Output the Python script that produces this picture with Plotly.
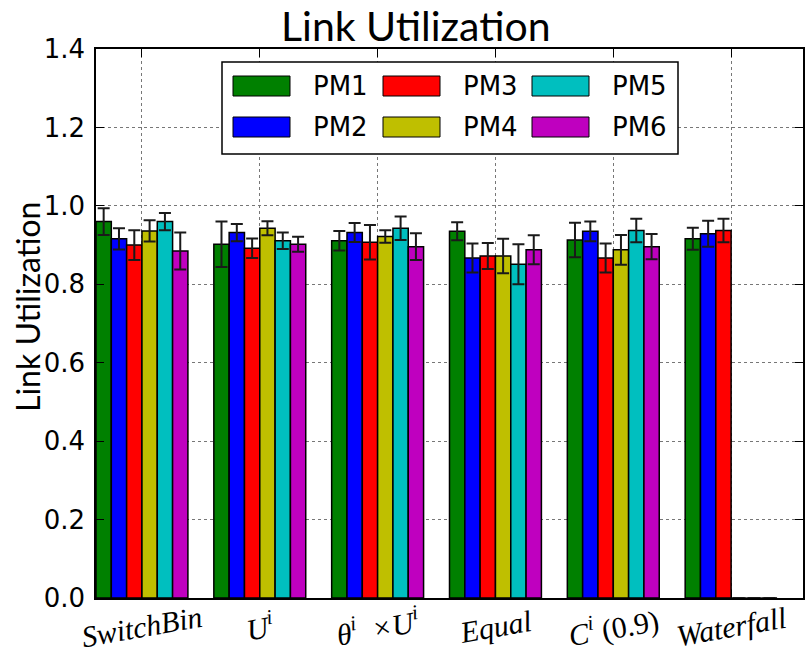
import plotly.graph_objects as go

# ---------------- data ----------------
categories = ["<i>SwitchBin</i>", "<i>U<sup>i</sup></i>", "<i>θ<sup>i</sup>  ×U<sup>i</sup></i>",
              "<i>Equal</i>", "<i>C<sup>i</sup></i> (0.9)", "<i>Waterfall</i>"]
series_names = ["PM1", "PM2", "PM3", "PM4", "PM5", "PM6"]

pm1 = [0.960, 0.902, 0.911, 0.935, 0.913, 0.916]
pm2 = [0.916, 0.932, 0.932, 0.867, 0.935, 0.929]
pm3 = [0.900, 0.892, 0.907, 0.872, 0.867, 0.937]
pm4 = [0.936, 0.943, 0.922, 0.872, 0.888, 0.0]
pm5 = [0.960, 0.911, 0.943, 0.851, 0.937, 0.0]
pm6 = [0.885, 0.902, 0.896, 0.888, 0.896, 0.0]

pm1_err = [0.034, 0.058, 0.025, 0.023, 0.044, 0.028]
pm2_err = [0.027, 0.022, 0.024, 0.037, 0.025, 0.033]
pm3_err = [0.038, 0.025, 0.044, 0.033, 0.037, 0.030]
pm4_err = [0.027, 0.018, 0.016, 0.044, 0.038, 0.0]
pm5_err = [0.022, 0.021, 0.030, 0.051, 0.030, 0.0]
pm6_err = [0.047, 0.019, 0.034, 0.037, 0.032, 0.0]

y_ticks = [0.0, 0.2, 0.4, 0.6, 0.8, 1.0, 1.2, 1.4]

values = [pm1, pm2, pm3, pm4, pm5, pm6]
errors = [pm1_err, pm2_err, pm3_err, pm4_err, pm5_err, pm6_err]

# ---------------- style ----------------
colors = ["#008000", "#0000ff", "#ff0000", "#bfbf00", "#00bfbf", "#bf00bf"]
BAR_W = 0.13
W, H = 806, 664
L, R, T, B = 96, 3, 49, 66
PW, PH = W - L - R, H - T - B

def px_x(px):
    return (px - L) / PW

def px_y(py):
    return (H - B - py) / PH

groups = list(range(len(categories)))
tick_pos = [g + 3 * BAR_W for g in groups]

fig = go.Figure()
for j, (name, vals, errs) in enumerate(zip(series_names, values, errors)):
    fig.add_trace(go.Bar(
        x=[g + j * BAR_W + BAR_W / 2 for g in groups],
        y=vals,
        width=BAR_W,
        name=name,
        marker=dict(color=colors[j], line=dict(color="black", width=1.5)),
        error_y=dict(type="data", array=errs, visible=True,
                     color="#1a1a1a", thickness=2, width=6),
        showlegend=False,
    ))

axis_common = dict(showline=True, linecolor="black", linewidth=1.5, mirror="allticks",
                   ticks="inside", ticklen=8, tickwidth=1, tickcolor="black",
                   showgrid=True, gridcolor="#777777", griddash="dot", gridwidth=1,
                   zeroline=False)

fig.update_xaxes(range=[0, 6], tickvals=tick_pos, showticklabels=False, **axis_common)
fig.update_yaxes(range=[0, 1.4], tickvals=y_ticks, ticktext=[f"{v:.1f}" for v in y_ticks],
                 tickfont=dict(family="DejaVu Sans", size=26, color="black"),
                 ticklabelstandoff=4, **axis_common)

annotations = []
# chart title
annotations.append(dict(x=px_x(416), xref="paper", y=px_y(0), yref="paper",
                        text="Link Utilization", showarrow=False,
                        xanchor="center", yanchor="top", borderpad=0,
                        font=dict(family="Lato", size=41, color="black")))
# x tick labels (rotated, centred on ticks)
for tp, lab in zip(tick_pos, categories):
    annotations.append(dict(x=tp, xref="x", y=px_y(626), yref="paper", text=lab,
                            showarrow=False, textangle=-10, xanchor="center", yanchor="middle",
                            font=dict(family="Liberation Serif", size=30, color="black")))
# y axis title
annotations.append(dict(x=px_x(27), xref="paper", y=px_y(307), yref="paper",
                        text="Link Utilization", showarrow=False, textangle=-90,
                        xanchor="center", yanchor="middle",
                        font=dict(family="Lato", size=32, color="black")))

# custom legend (matplotlib style wide patches)
shapes = [dict(type="rect", xref="paper", yref="paper",
               x0=px_x(222), x1=px_x(678), y0=px_y(154), y1=px_y(62),
               line=dict(color="black", width=1.5), fillcolor="white", layer="above")]
col_patch_x = [233, 383, 532]
col_text_x = [311, 461, 610]
row_patch_y = [(76, 96), (117, 137)]
row_text_y = [86, 127]
for k, name in enumerate(series_names):
    c, r = k // 2, k % 2
    shapes.append(dict(type="rect", xref="paper", yref="paper",
                       x0=px_x(col_patch_x[c]), x1=px_x(col_patch_x[c] + 57),
                       y0=px_y(row_patch_y[r][1]), y1=px_y(row_patch_y[r][0]),
                       line=dict(color="black", width=1), fillcolor=colors[k], layer="above"))
    annotations.append(dict(x=px_x(col_text_x[c]), xref="paper", y=px_y(row_text_y[r]), yref="paper",
                            text=name, showarrow=False, xanchor="left", yanchor="middle",
                            font=dict(family="DejaVu Sans", size=26, color="black")))

fig.update_layout(
    width=W, height=H,
    margin=dict(l=L, r=R, t=T, b=B, autoexpand=False),
    paper_bgcolor="white", plot_bgcolor="white",
    barmode="overlay",
    annotations=annotations,
    shapes=shapes,
)

fig.write_html("out.html", config={"displayModeBar": False},
               post_script="document.body.style.margin='0';document.body.style.overflow='hidden';")
